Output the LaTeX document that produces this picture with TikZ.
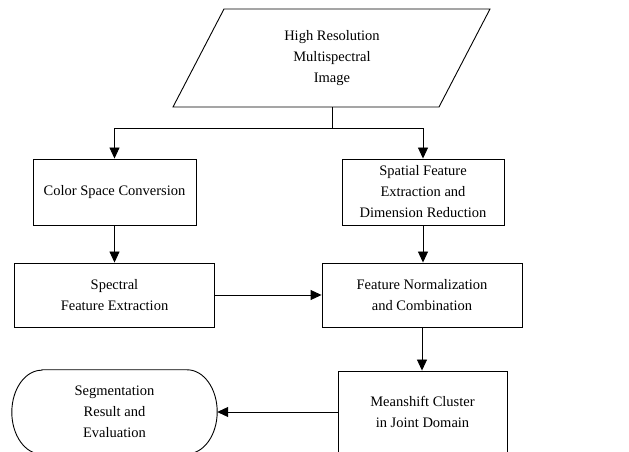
\documentclass[tikz,border=0pt]{standalone}
\usepackage{fontspec}
\setmainfont{Liberation Serif}
\usetikzlibrary{arrows.meta,calc}
\begin{document}
\begin{tikzpicture}[x=1pt,y=1pt,
  every node/.style={font=\fontsize{14.5}{21}\selectfont, align=center, inner sep=0pt},
  box/.style={draw, line width=0.9pt, minimum width=#1, minimum height=66pt},
  ln/.style={line width=0.9pt},
  arr/.style={line width=0.9pt, -{Triangle[length=11pt,width=10pt]}}]
\useasboundingbox (0,0) rectangle (629,452);
% input parallelogram
\node[minimum width=317pt, minimum height=98pt] (img) at (332,394) {High Resolution\\Multispectral\\Image};
\draw[ln] (173,345) -- (439,345) -- (490,443) -- (224,443) -- cycle;
\coordinate (split) at (332,324);
% boxes
\node[box=163pt] (csc) at (114.5,260) {Color Space Conversion};
\node[box=162pt] (sfe) at (423,260) {Spatial Feature\\Extraction and\\Dimension Reduction};
\node[box=200pt, minimum height=64pt] (spec) at (114.5,157) {Spectral\\Feature Extraction};
\node[box=200pt, minimum height=64pt] (fnc) at (422,157) {Feature Normalization\\and Combination};
\node[box=169pt, minimum height=82pt] (ms) at (422.5,40) {Meanshift Cluster\\in Joint Domain};
% terminal
\node[minimum width=205pt, minimum height=84pt] (seg) at (114.5,40) {Segmentation\\Result and\\Evaluation};
\draw[ln] ($(seg.north west)+(30,0)$) -- ($(seg.north east)+(-30,0)$)
  arc[start angle=90,end angle=-90,x radius=30,y radius=42]
  -- ($(seg.south west)+(30,0)$)
  arc[start angle=270,end angle=90,x radius=30,y radius=42] -- cycle;
% connectors
\draw[ln] (img.south) -- (split);
\draw[arr] (split) -| (csc.north);
\draw[arr] (split) -| (sfe.north);
\draw[arr] (csc.south) -- (spec.north);
\draw[arr] (sfe.south) -- (sfe.south |- fnc.north);
\draw[arr] (spec.east) -- (fnc.west);
\draw[arr] (fnc.south) -- (fnc.south |- ms.north);
\draw[arr] (ms.west) -- (seg.east);
\end{tikzpicture}
\end{document}
